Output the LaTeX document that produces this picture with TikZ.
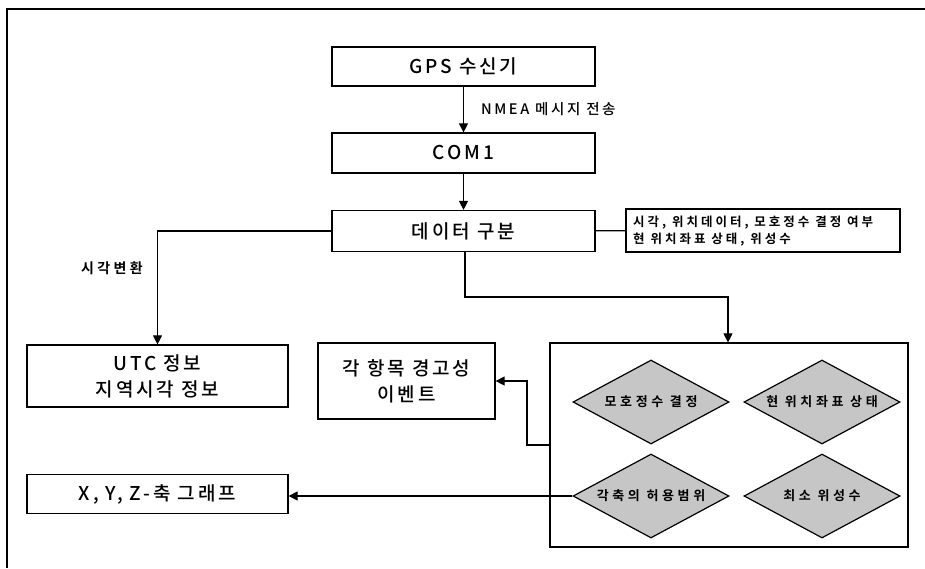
\documentclass[tikz,border=0pt]{standalone}
\usepackage{fontspec}
\setmainfont{Noto Sans CJK KR Medium}[LetterSpace=15]
\newfontfamily\krmid{Noto Sans CJK KR Medium}[LetterSpace=18]
\newfontfamily\krbold{Noto Sans CJK KR Bold}[LetterSpace=28]
\newfontfamily\krinfo{Noto Sans CJK KR Bold}[LetterSpace=24]
\usetikzlibrary{shapes.geometric,arrows.meta}
\begin{document}
\begin{tikzpicture}[x=1pt,y=-1pt,
  box/.style={draw=black,line width=1.2pt,rectangle,inner sep=0pt,align=center,
    font=\fontsize{19}{26}\selectfont},
  dia/.style={draw=black,line width=1.2pt,diamond,shape aspect=2,fill=gray!45,inner sep=0pt,
    minimum width=156pt,minimum height=84pt,font=\krbold\fontsize{13}{14}\selectfont},
  conn/.style={line width=1.1pt},
  arr/.style={line width=1.1pt,-{Triangle[length=9pt,width=9pt]}},
  lbl/.style={inner sep=0pt,font=\krinfo\fontsize{14}{16}\selectfont}]
\useasboundingbox (0,0) rectangle (925,568);
\fill[white] (0,0) rectangle (925,568);
% frame
\draw[line width=1.2pt] (925,9) -- (7,9) -- (7,568);
% boxes
\node[box,minimum width=263pt,minimum height=39pt] (gps) at (463.5,66.5) {GPS 수신기};
\node[box,minimum width=263pt,minimum height=40pt] (com) at (463.5,153) {COM1};
\node[box,minimum width=263pt,minimum height=41pt] (data) at (463.5,231) {데이터 구분};
\node[box,minimum width=274pt,minimum height=43pt] (info) at (763,230.5) {};
\node[anchor=west,inner sep=0pt,align=left,font=\krinfo\fontsize{12.5}{16.5}\selectfont] (infotxt) at (633,231)
  {시각, 위치데이터, 모호정수 결정 여부\\현 위치좌표 상태, 위성수};
\node[box,minimum width=261pt,minimum height=62pt] (utc) at (157.5,376) {UTC 정보\\지역시각 정보};
\node[box,minimum width=177pt,minimum height=76pt] (warn) at (406.5,381) {각 항목 경고성\\이벤트};
\node[box,minimum width=261pt,minimum height=39pt] (xyz) at (157.5,494) {X, Y, Z-축 그래프};
\node[box,minimum width=358pt,minimum height=204pt] (big) at (729,445) {};
% diamonds
\node[dia] (d1) at (651,402) {모호정수 결정};
\node[dia] (d2) at (822,402) {현 위치좌표 상태};
\node[dia] (d3) at (651,496) {각축의 허용범위};
\node[dia] (d4) at (822,496) {최소 위성수};
% connectors
\draw[arr] (gps) -- (com) node[midway,anchor=west,xshift=17pt,inner sep=0pt,font=\krmid\fontsize{14.5}{16}\selectfont] (nmea) {NMEA 메시지 전송};
\draw[arr] (com) -- (data);
\draw[conn] (data) -- (info);
\coordinate (c1) at (157.5,231);
\draw[arr] (data.west) -- (c1) -- (utc.north);
\node[lbl] (tconv) at (112,268) {시각변환};
\coordinate (c2) at (465,297);
\coordinate (c3) at (728,297);
\draw[arr] (data.south -| c2) -- (c2) -- (c3) -- (c3 |- big.north);
\coordinate (c4) at (527,445);
\coordinate (c5) at (527,381);
\draw[arr] (big.west) -- (c4) -- (c5) -- (warn.east);
\draw[arr] (d3.west) -- (d3.west -| xyz.east);
\end{tikzpicture}
\end{document}
